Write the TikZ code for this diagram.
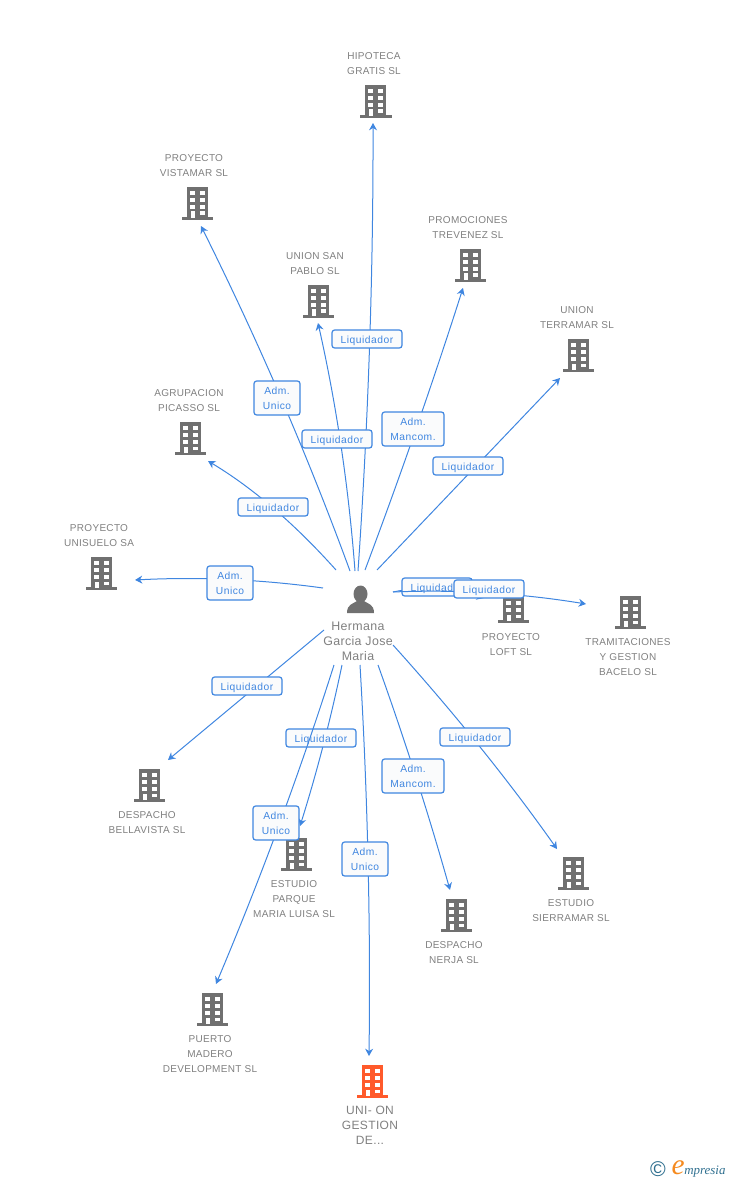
\documentclass[tikz,border=0pt]{standalone}
\usepackage{fontspec}
\setmainfont{Liberation Sans}
\newfontfamily\namefont[LetterSpace=3]{Liberation Sans}
\newfontfamily\rolefont[LetterSpace=5]{Liberation Sans}
\newfontfamily\logofont{Liberation Serif}
\usetikzlibrary{positioning, calc, arrows.meta}

\definecolor{linkblue}{HTML}{3F86E0}
\definecolor{boxfill}{HTML}{FAFBFC}
\definecolor{bldggrey}{HTML}{707070}
\definecolor{bldgred}{HTML}{FF5A2B}
\definecolor{textgrey}{HTML}{808080}
\definecolor{logoteal}{HTML}{2F6F8F}
\definecolor{logoorange}{HTML}{F58A1F}

\tikzset{
    pics/bldg/.style={code={
        \fill[#1] (-10.5,-17) rectangle (10.5,13);
        \fill[#1] (-15.5,13) rectangle (16,16);
        \foreach \wy in {-13,-6,1} {
            \fill[white] (-7.5,\wy) rectangle (-2.5,\wy+4);
            \fill[white] (2.5,\wy) rectangle (7.5,\wy+4);
        }
        \fill[white] (-6.5,7.5) rectangle (-2.5,14);
        \fill[white] (2.5,7.5) rectangle (7.5,11);
    }},
    company/.style={text=textgrey, align=center, inner sep=0pt,
        font=\namefont\fontsize{7.5}{11.25}\selectfont},
    bigname/.style={text=textgrey, align=center, inner sep=0pt,
        font=\namefont\fontsize{9}{11.25}\selectfont},
    personname/.style={bigname, font=\namefont\fontsize{9.3}{11.25}\selectfont},
    role/.style={draw=linkblue, fill=boxfill, rounded corners=2pt, line width=0.9pt,
        text=linkblue, inner sep=0pt, minimum height=13.5pt,
        font=\rolefont\fontsize{7.7}{11.25}\selectfont},
    oneline/.style={role, minimum width=52.5pt, text height=6pt, text depth=0pt},
    twoline/.style={role, align=center, minimum width=34.5pt, minimum height=25.5pt},
    mancom/.style={role, align=center, minimum width=46.5pt, minimum height=25.5pt},
    link/.style={draw=linkblue, line width=0.75pt,
        -{Stealth[length=5.5pt, width=6pt]}},
}

% a link bends through its via point
\newcommand{\rlink}[1]{\draw[link] (s#1) .. controls ($(e#1)!1.3333!(v#1)$) and ($(s#1)!1.3333!(v#1)$) .. (e#1);}

\begin{document}
\begin{tikzpicture}[x=0.75pt, y=-0.75pt]
        \useasboundingbox (0,0) rectangle (728,1180);

        % the buildings
        \pic at (375.5,102) {bldg=bldggrey};
        \pic at (197,204) {bldg=bldggrey};
        \pic at (318,302) {bldg=bldggrey};
        \pic at (470,266) {bldg=bldggrey};
        \pic at (578,356) {bldg=bldggrey};
        \pic at (190,439) {bldg=bldggrey};
        \pic at (101,574) {bldg=bldggrey};
        \pic at (513,607) {bldg=bldggrey};
        \pic at (630,613) {bldg=bldggrey};
        \pic at (149,786) {bldg=bldggrey};
        \pic at (296,855) {bldg=bldggrey};
        \pic at (573,874) {bldg=bldggrey};
        \pic at (456,916) {bldg=bldggrey};
        \pic at (212,1010) {bldg=bldggrey};
        \pic at (372,1082) {bldg=bldgred};

        % the company names
        \node[company] (hipoteca) at (374,64) {HIPOTECA\\GRATIS SL};
        \node[company] (vistamar) at (194,166) {PROYECTO\\VISTAMAR SL};
        \node[company] (sanpablo) at (315,264) {UNION SAN\\PABLO SL};
        \node[company] (trevenez) at (468,228) {PROMOCIONES\\TREVENEZ SL};
        \node[company] (terramar) at (577,318) {UNION\\TERRAMAR SL};
        \node[company] (picasso) at (189,401) {AGRUPACION\\PICASSO SL};
        \node[company] (unisuelo) at (99,536) {PROYECTO\\UNISUELO SA};
        \node[company] (loft) at (511,645) {PROYECTO\\LOFT SL};
        \node[company] (bacelo) at (628,657) {TRAMITACIONES\\Y GESTION\\BACELO SL};
        \node[company] (bellavista) at (147,823) {DESPACHO\\BELLAVISTA SL};
        \node[company] (parque) at (294,899) {ESTUDIO\\PARQUE\\MARIA LUISA SL};
        \node[company] (sierramar) at (571,911) {ESTUDIO\\SIERRAMAR SL};
        \node[company] (nerja) at (454,953) {DESPACHO\\NERJA SL};
        \node[company] (puerto) at (210,1054) {PUERTO\\MADERO\\DEVELOPMENT SL};
        \node[bigname] (union) at (370,1125) {UNI- ON\\GESTION\\DE...};

        % the person
        \fill[bldggrey] (360.5,594) ellipse (7 and 8.5);
        \fill[bldggrey] (347,613) .. controls (347,604) and (353,604) .. (357,601)
            -- (364,601) .. controls (368,604) and (374,604) .. (374,613) -- cycle;
        \node[personname] (hermana) at (358,641) {Hermana\\Garcia Jose\\Maria};

        % free ends of the links and the points they bend through
        \coordinate (s1) at (358,571);  \coordinate (v1) at (369.5,347); \coordinate (e1) at (373,123);
        \coordinate (s2) at (350,571);  \coordinate (v2) at (281,398);   \coordinate (e2) at (201,226);
        \coordinate (s3) at (355,571);  \coordinate (v3) at (341,446);   \coordinate (e3) at (318,323);
        \coordinate (s4) at (365,570);  \coordinate (v4) at (416,429);   \coordinate (e4) at (463,288);
        \coordinate (s5) at (377,570);  \coordinate (v5) at (468.5,474); \coordinate (e5) at (560,378);
        \coordinate (s6) at (336,570);  \coordinate (v6) at (273,508);   \coordinate (e6) at (208,461);
        \coordinate (s7) at (323,588);  \coordinate (v7) at (229,579.5); \coordinate (e7) at (135,580);
        \coordinate (s8) at (393,592);  \coordinate (v8) at (437,589);   \coordinate (e8) at (484,598);
        \coordinate (s9) at (393,592);  \coordinate (v9) at (489,593);   \coordinate (e9) at (586,604);
        \coordinate (s10) at (324,630); \coordinate (v10) at (246,695);  \coordinate (e10) at (168,760);
        \coordinate (s11) at (342,665); \coordinate (v11) at (323,746);  \coordinate (e11) at (300,826);
        \coordinate (s12) at (334,665); \coordinate (v12) at (279,825);  \coordinate (e12) at (216,984);
        \coordinate (s13) at (360,665); \coordinate (v13) at (368,860);  \coordinate (e13) at (369,1056);
        \coordinate (s14) at (378,665); \coordinate (v14) at (416,777);  \coordinate (e14) at (450,890);
        \coordinate (s15) at (393,645); \coordinate (v15) at (480,747);  \coordinate (e15) at (557,849);

        % the links and their role boxes, each one over the ones before
        \rlink{1}
        \node[oneline] (r1) at (367,339) {Liquidador};
        \rlink{2}
        \node[twoline] (r2) at (277,398) {Adm.\\Unico};
        \rlink{3}
        \node[oneline] (r3) at (337,439) {Liquidador};
        \rlink{4}
        \node[mancom] (r4) at (413,429) {Adm.\\Mancom.};
        \rlink{5}
        \node[oneline] (r5) at (468,466) {Liquidador};
        \rlink{6}
        \node[oneline] (r6) at (273,507) {Liquidador};
        \rlink{7}
        \node[twoline] (r7) at (230,583) {Adm.\\Unico};
        \rlink{8}
        \node[oneline] (r8) at (437,587) {Liquidador};
        \rlink{9}
        \node[oneline] (r9) at (489,589) {Liquidador};
        \rlink{10}
        \node[oneline] (r10) at (247,686) {Liquidador};
        \rlink{11}
        \node[oneline] (r11) at (321,738) {Liquidador};
        \rlink{12}
        \node[twoline] (r12) at (276,823) {Adm.\\Unico};
        \rlink{13}
        \node[twoline] (r13) at (365,859) {Adm.\\Unico};
        \rlink{14}
        \node[mancom] (r14) at (413,776) {Adm.\\Mancom.};
        \rlink{15}
        \node[oneline] (r15) at (475,737) {Liquidador};

        % the logo
        \node[text=logoteal, inner sep=0pt, font=\fontsize{16}{16}\selectfont] (copyr) at (658,1169) {\textcopyright};
        \node[text=logoorange, inner sep=0pt, anchor=base, font=\logofont\itshape\fontsize{22}{22}\selectfont] (logoe) at (678,1174) {e};
        \node[text=logoteal, inner sep=0pt, anchor=base west, font=\logofont\itshape\fontsize{9.7}{9.7}\selectfont] (logotxt) at (684,1174) {mpresia};
\end{tikzpicture}
\end{document}
